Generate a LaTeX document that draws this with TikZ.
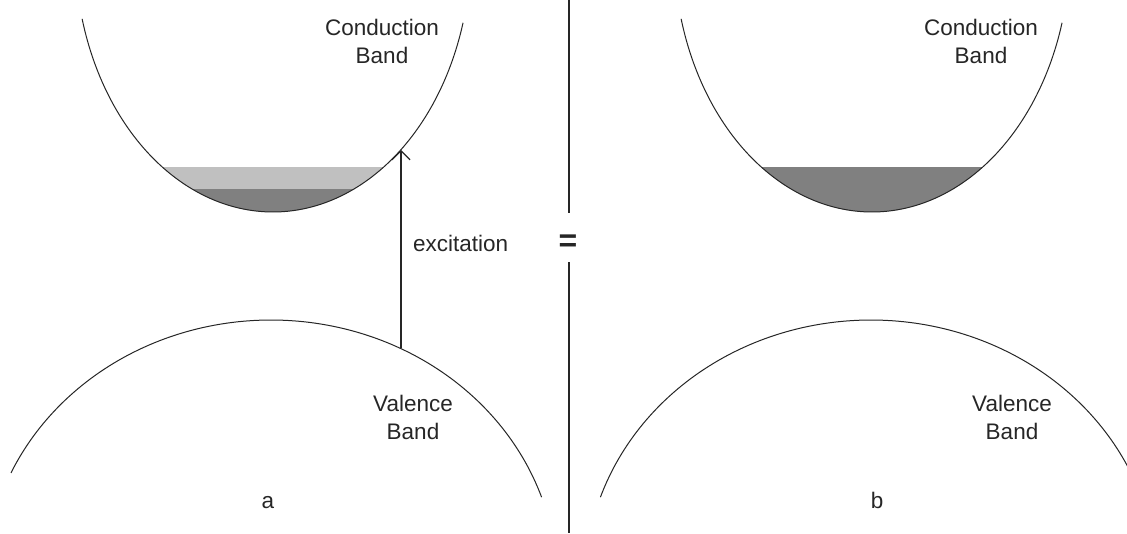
\documentclass[tikz,border=0pt]{standalone}
\usepackage{fontspec}
\setmainfont{Liberation Sans}
\usetikzlibrary{arrows.meta,positioning}
\definecolor{occlight}{HTML}{C0C0C0}
\definecolor{occdark}{HTML}{808080}
\definecolor{inkgray}{HTML}{262626}

\begin{document}
\begin{tikzpicture}[x=1pt, y=-1pt,
  band/.style={line width=1pt, color=inkgray},
  lbl/.style={font=\fontsize{22.5}{28}\selectfont, text=inkgray, align=center, inner sep=0pt},
  arr/.style={-{Straight Barb[length=9pt, width=18pt]}, line width=1.2pt, color=inkgray}
]
\useasboundingbox (0,0) rectangle (1127,533);
\clip (0,0) rectangle (1127,533);
% occupied states at the bottom of the conduction band
\begin{scope}
  \clip (273,-51) ellipse [x radius=198, y radius=263];
  \fill[occlight] (150,167) rectangle (400,189);
  \fill[occdark] (150,189) rectangle (400,215);
\end{scope}
\begin{scope}
  \clip (872,-51) ellipse [x radius=198, y radius=263];
  \fill[occdark] (750,167) rectangle (1000,215);
\end{scope}
% conduction bands
\draw[band] plot[domain=16.3:164.6, samples=120] ({273+198*cos(\x)}, {-51+263*sin(\x)});
\draw[band] plot[domain=16.3:164.6, samples=120] ({872+198*cos(\x)}, {-51+263*sin(\x)});
% valence bands
\draw[band] plot[domain=204.6:341.1, samples=120] ({271+286*cos(\x)}, {582+262*sin(\x)});
\draw[band] plot[domain=198.9:335, samples=120] ({871+286*cos(\x)}, {582+262*sin(\x)});
% excitation
\coordinate (vb) at (401,348);
\coordinate (cb) at (401,150);
\draw[arr] (vb) -- (cb);
\node[lbl, anchor=base west] (exc) at (413,251) {excitation};
% labels
\node[lbl] (cbA) at (382,41) {Conduction\\Band};
\node[lbl] (cbB) at (981,41) {Conduction\\Band};
\node[lbl] (vbA) at (413,417) {Valence\\Band};
\node[lbl] (vbB) at (1012,417) {Valence\\Band};
\node[lbl, anchor=base] (capA) at (268,508) {a};
\node[lbl, anchor=base] (capB) at (877,508) {b};
% divider
\node[font=\bfseries\fontsize{32}{32}\selectfont, text=inkgray, inner sep=0pt] (eq) at (568,243) {=};
\coordinate (divtop) at (569,0);
\coordinate (gapup) at (569,213);
\coordinate (gapdn) at (569,262);
\coordinate (divbot) at (569,533);
\draw[line width=1.5pt, color=inkgray] (divtop) -- (gapup);
\draw[line width=1.5pt, color=inkgray] (gapdn) -- (divbot);
\end{tikzpicture}
\end{document}
